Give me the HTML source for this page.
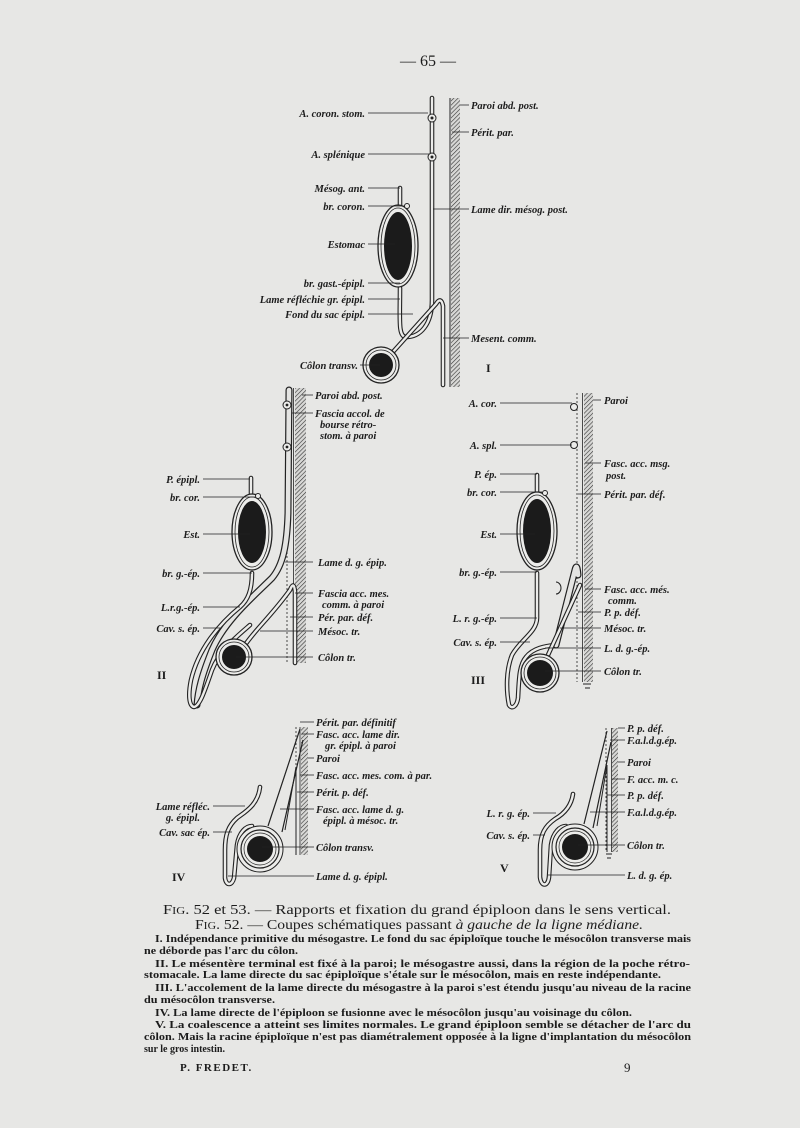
<!DOCTYPE html>
<html><head><meta charset="utf-8"><style>
html,body{margin:0;padding:0;background:#e7e7e5;}
svg{display:block}
.t{font-family:"Liberation Serif",serif;font-style:italic;font-weight:bold;font-size:10.5px;fill:#1c1c1c}
.r{text-anchor:end}
.b{font-family:"Liberation Serif",serif;font-weight:bold;font-size:11px;fill:#1c1c1c}
.ld{stroke:#222;stroke-width:0.8;fill:none}
.to{stroke:#222;stroke-width:4.6;fill:none;stroke-linecap:round;stroke-linejoin:round}
.ti{stroke:#ececea;stroke-width:2.4;fill:none;stroke-linecap:round;stroke-linejoin:round}
.th{stroke:#222;stroke-width:7;fill:none;stroke-linecap:round;stroke-linejoin:round}
.thi{stroke:#e4e4e2;stroke-width:4.6;fill:none;stroke-linecap:round;stroke-linejoin:round}
</style></head><body>
<svg width="800" height="1128" viewBox="0 0 800 1128" xmlns="http://www.w3.org/2000/svg">
<defs>
<pattern id="h" width="3" height="3" patternUnits="userSpaceOnUse" patternTransform="rotate(45)">
<rect width="3" height="3" fill="#d8d8d6"/><line x1="0" y1="0" x2="0" y2="3" stroke="#333" stroke-width="1.2"/>
</pattern>
</defs>
<rect width="800" height="1128" fill="#e7e7e5"/>
<text x="428" y="66" text-anchor="middle" font-family="Liberation Serif,serif" font-size="16" fill="#1c1c1c">— 65 —</text>

<!-- FIG I -->
<rect x="451" y="98" width="9" height="289" fill="url(#h)"/>
<line x1="450" y1="98" x2="450" y2="387" stroke="#222" stroke-width="1"/>
<path class="to" d="M432,98 L432,300 C432,325 420,337 406,337 C398,337 400,320 400,288"/>
<path class="ti" d="M432,98 L432,300 C432,325 420,337 406,337 C398,337 400,320 400,288"/>
<path class="to" d="M400,188 L400,205"/><path class="ti" d="M400,188 L400,205"/>
<circle cx="432" cy="118" r="4" fill="#ececea" stroke="#222"/><circle cx="432" cy="118" r="1.5" fill="#222"/>
<circle cx="432" cy="157" r="4" fill="#ececea" stroke="#222"/><circle cx="432" cy="157" r="1.5" fill="#222"/>
<path class="to" d="M392,353 L436,304 Q441,296 443,306 L443,385"/>
<path class="ti" d="M392,353 L436,304 Q441,296 443,306 L443,385"/>
<ellipse cx="398" cy="246" rx="20" ry="41" fill="#ececea" stroke="#222" stroke-width="1.3"/>
<ellipse cx="398" cy="246" rx="17" ry="38" fill="none" stroke="#222" stroke-width="0.8"/>
<ellipse cx="398" cy="246" rx="14" ry="34" fill="#1b1b1b"/>
<circle cx="407" cy="206" r="2.5" fill="#ececea" stroke="#222"/>
<circle cx="381" cy="365" r="18" fill="#ececea" stroke="#222" stroke-width="1.3"/>
<circle cx="381" cy="365" r="15" fill="none" stroke="#222" stroke-width="0.8"/>
<circle cx="381" cy="365" r="12" fill="#1b1b1b"/>
<g class="ld">
<path d="M368,113H428M368,154H429M368,188H400M368,206H405M368,244H395M368,283H400M368,299H400M368,314H413M360,365H380"/>
<path d="M460,105H469M452,132H469M433,209H469M443,338H469"/>
</g>
<g class="t r">
<text x="365" y="117">A. coron. stom.</text><text x="365" y="158">A. splénique</text>
<text x="365" y="192">Mésog. ant.</text><text x="365" y="210">br. coron.</text>
<text x="365" y="248">Estomac</text><text x="365" y="287">br. gast.-épipl.</text>
<text x="365" y="303">Lame réfléchie gr. épipl.</text><text x="365" y="318">Fond du sac épipl.</text>
<text x="358" y="369">Côlon transv.</text>
</g>
<g class="t">
<text x="471" y="109">Paroi abd. post.</text><text x="471" y="136">Périt. par.</text>
<text x="471" y="213">Lame dir. mésog. post.</text><text x="471" y="342">Mesent. comm.</text>
</g>
<text x="486" y="372" font-family="Liberation Serif,serif" font-weight="bold" font-size="12" fill="#1c1c1c">I</text>

<!-- FIG II -->
<rect x="295" y="388" width="11" height="275" fill="url(#h)"/>
<line x1="293.5" y1="388" x2="293.5" y2="663" stroke="#222" stroke-width="0.8"/>
<line x1="287" y1="388" x2="287" y2="663" stroke="#222" stroke-width="0.8" stroke-dasharray="2,2"/>
<path class="th" d="M289,390 L288,513 C287,545 283,565 272,578 C255,595 225,620 212,650 C202,675 198,690 197,705"/>
<path class="thi" d="M289,390 L288,513 C287,545 283,565 272,578 C255,595 225,620 212,650 C202,675 198,690 197,705"/>
<path class="to" d="M252,573 C252,590 248,600 240,607 C218,625 198,650 191,680 C188,695 189,706 194,707 C200,706 205,690 212,670 C220,650 235,638 250,625"/>
<path class="ti" d="M252,573 C252,590 248,600 240,607 C218,625 198,650 191,680 C188,695 189,706 194,707 C200,706 205,690 212,670 C220,650 235,638 250,625"/>
<path class="to" d="M245,645 C255,630 272,615 290,590 Q294,580 295,592 L295,663"/>
<path class="ti" d="M245,645 C255,630 272,615 290,590 Q294,580 295,592 L295,663"/>
<path class="to" d="M251,478 L251,494"/><path class="ti" d="M251,478 L251,494"/>
<circle cx="287" cy="405" r="4" fill="#ececea" stroke="#222"/><circle cx="287" cy="405" r="1.4" fill="#222"/>
<circle cx="287" cy="447" r="4" fill="#ececea" stroke="#222"/><circle cx="287" cy="447" r="1.4" fill="#222"/>
<ellipse cx="252" cy="532" rx="20" ry="38" fill="#ececea" stroke="#222" stroke-width="1.3"/>
<ellipse cx="252" cy="532" rx="17" ry="35" fill="none" stroke="#222" stroke-width="0.8"/>
<ellipse cx="252" cy="532" rx="14" ry="31" fill="#1b1b1b"/>
<circle cx="258" cy="496" r="2.5" fill="#ececea" stroke="#222"/>
<circle cx="234" cy="657" r="18" fill="#ececea" stroke="#222" stroke-width="1.3"/>
<circle cx="234" cy="657" r="15" fill="none" stroke="#222" stroke-width="0.8"/>
<circle cx="234" cy="657" r="12" fill="#1b1b1b"/>
<g class="ld">
<path d="M203,479H250M203,497H255M203,534H250M203,573H252M203,607H240M203,628H220"/>
<path d="M302,395H313M292,413H313M285,562H313M295,593H313M290,617H313M260,631H313M236,657H313"/>
</g>
<g class="t r">
<text x="200" y="483">P. épipl.</text><text x="200" y="501">br. cor.</text>
<text x="200" y="538">Est.</text><text x="200" y="577">br. g.-ép.</text>
<text x="200" y="611">L.r.g.-ép.</text><text x="200" y="632">Cav. s. ép.</text>
</g>
<g class="t">
<text x="315" y="399">Paroi abd. post.</text><text x="315" y="417">Fascia accol. de</text>
<text x="320" y="428">bourse rétro-</text><text x="320" y="439">stom. à paroi</text>
<text x="318" y="566">Lame d. g. épip.</text><text x="318" y="597">Fascia acc. mes.</text>
<text x="322" y="608">comm. à paroi</text><text x="318" y="621">Pér. par. déf.</text>
<text x="318" y="635">Mésoc. tr.</text><text x="318" y="661">Côlon tr.</text>
</g>
<text x="157" y="679" font-family="Liberation Serif,serif" font-weight="bold" font-size="12" fill="#1c1c1c">II</text>

<!-- FIG III -->
<rect x="584" y="393" width="9" height="289" fill="url(#h)"/>
<line x1="582.5" y1="393" x2="582.5" y2="682" stroke="#222" stroke-width="0.8"/>
<line x1="577" y1="393" x2="577" y2="682" stroke="#222" stroke-width="0.8" stroke-dasharray="2,2"/>
<path d="M583,684 L591,684 M585,688 L590,688" stroke="#222"/>
<path class="to" d="M537,573 L537,618 C537,632 520,640 512,655 C506,670 506,690 509,705 C512,710 517,706 518,698 C519,680 519,665 526,657 C533,648 545,646 556,645"/>
<path class="ti" d="M537,573 L537,618 C537,632 520,640 512,655 C506,670 506,690 509,705 C512,710 517,706 518,698 C519,680 519,665 526,657 C533,648 545,646 556,645"/>
<path class="th" d="M556,645 L575,570 Q577,562 578,575"/>
<path class="thi" d="M556,645 L575,570 Q577,562 578,575"/>
<path class="to" d="M548,655 L580,585"/><path class="ti" d="M548,655 L580,585"/>
<path class="to" d="M537,475 L537,492"/><path class="ti" d="M537,475 L537,492"/>
<circle cx="574" cy="407" r="3.5" fill="#ececea" stroke="#222"/>
<circle cx="574" cy="445" r="3.5" fill="#ececea" stroke="#222"/>
<path d="M556,582 A5,6 0 0 1 556,594" fill="none" stroke="#222"/>
<ellipse cx="537" cy="531" rx="20" ry="39" fill="#ececea" stroke="#222" stroke-width="1.3"/>
<ellipse cx="537" cy="531" rx="17" ry="36" fill="none" stroke="#222" stroke-width="0.8"/>
<ellipse cx="537" cy="531" rx="14" ry="32" fill="#1b1b1b"/>
<circle cx="545" cy="493" r="2.5" fill="#ececea" stroke="#222"/>
<circle cx="540" cy="673" r="19" fill="#ececea" stroke="#222" stroke-width="1.3"/>
<circle cx="540" cy="673" r="16" fill="none" stroke="#222" stroke-width="0.8"/>
<circle cx="540" cy="673" r="13" fill="#1b1b1b"/>
<g class="ld">
<path d="M500,403H572M500,445H572M500,474H537M500,492H542M500,534H535M500,572H537M500,618H537M500,642H530"/>
<path d="M593,400H601M585,463H601M578,494H601M585,589H601M578,612H601M560,628H601M545,648H601M545,671H601"/>
</g>
<g class="t r">
<text x="497" y="407">A. cor.</text><text x="497" y="449">A. spl.</text>
<text x="497" y="478">P. ép.</text><text x="497" y="496">br. cor.</text>
<text x="497" y="538">Est.</text><text x="497" y="576">br. g.-ép.</text>
<text x="497" y="622">L. r. g.-ép.</text><text x="497" y="646">Cav. s. ép.</text>
</g>
<g class="t">
<text x="604" y="404">Paroi</text><text x="604" y="467">Fasc. acc. msg.</text>
<text x="606" y="479">post.</text><text x="604" y="498">Périt. par. déf.</text>
<text x="604" y="593">Fasc. acc. més.</text><text x="608" y="604">comm.</text>
<text x="604" y="616">P. p. déf.</text><text x="604" y="632">Mésoc. tr.</text>
<text x="604" y="652">L. d. g.-ép.</text><text x="604" y="675">Côlon tr.</text>
</g>
<text x="471" y="684" font-family="Liberation Serif,serif" font-weight="bold" font-size="12" fill="#1c1c1c">III</text>

<!-- FIG IV -->
<rect x="301" y="727" width="7" height="128" fill="url(#h)"/>
<line x1="300" y1="727" x2="300" y2="855" stroke="#222" stroke-width="0.8"/>
<line x1="296" y1="727" x2="296" y2="855" stroke="#222" stroke-width="0.8" stroke-dasharray="2,2"/>
<path d="M300,729 L268,826 M303,740 L282,832" stroke="#222" stroke-width="1.2" fill="none"/>
<path d="M296,767 L285,830" stroke="#222" stroke-width="1" fill="none"/>
<path d="M296,767 L296,855" stroke="#222" stroke-width="1" fill="none"/>
<path class="to" d="M260,787 C258,805 245,812 237,818 C228,826 225,835 225,850 L225,878 C226,886 232,886 234,878 L237,845 C239,832 246,826 252,826"/>
<path class="ti" d="M260,787 C258,805 245,812 237,818 C228,826 225,835 225,850 L225,878 C226,886 232,886 234,878 L237,845 C239,832 246,826 252,826"/>
<circle cx="260" cy="849" r="23" fill="#ececea" stroke="#222" stroke-width="1"/>
<circle cx="260" cy="849" r="19" fill="none" stroke="#222" stroke-width="1.2"/>
<circle cx="260" cy="849" r="16" fill="none" stroke="#222" stroke-width="0.7"/>
<circle cx="260" cy="849" r="13" fill="#1b1b1b"/>
<g class="ld">
<path d="M213,806H245M213,832H232"/>
<path d="M300,722H314M302,734H314M308,758H314M300,775H314M297,792H314M280,809H314M262,847H314M228,876H314"/>
</g>
<g class="t r">
<text x="210" y="810">Lame réfléc.</text><text x="200" y="821">g. épipl.</text>
<text x="210" y="836">Cav. sac ép.</text>
</g>
<g class="t">
<text x="316" y="726">Périt. par. définitif</text><text x="316" y="738">Fasc. acc. lame dir.</text>
<text x="325" y="749">gr. épipl. à paroi</text><text x="316" y="762">Paroi</text>
<text x="316" y="779">Fasc. acc. mes. com. à par.</text><text x="316" y="796">Périt. p. déf.</text>
<text x="316" y="813">Fasc. acc. lame d. g.</text><text x="323" y="824">épipl. à mésoc. tr.</text>
<text x="316" y="851">Côlon transv.</text><text x="316" y="880">Lame d. g. épipl.</text>
</g>
<text x="172" y="881" font-family="Liberation Serif,serif" font-weight="bold" font-size="12" fill="#1c1c1c">IV</text>

<!-- FIG V -->
<rect x="612" y="728" width="6" height="124" fill="url(#h)"/>
<line x1="611.5" y1="728" x2="611.5" y2="852" stroke="#222" stroke-width="0.8"/>
<line x1="606" y1="728" x2="606" y2="852" stroke="#222" stroke-width="0.8" stroke-dasharray="2,2"/>
<path d="M606,854 L612,854 M607,858 L611,858" stroke="#222"/>
<path d="M607,731 L584,824 M611,742 L593,828" stroke="#222" stroke-width="1.2" fill="none"/>
<path d="M607,765 L597,826 M607,765 L607,852" stroke="#222" stroke-width="1" fill="none"/>
<path class="to" d="M573,794 C571,808 562,815 555,819 C545,826 540,834 540,850 L540,877 C541,887 548,887 549,877 L551,845 C553,832 560,826 566,826"/>
<path class="ti" d="M573,794 C571,808 562,815 555,819 C545,826 540,834 540,850 L540,877 C541,887 548,887 549,877 L551,845 C553,832 560,826 566,826"/>
<circle cx="575" cy="847" r="23" fill="#ececea" stroke="#222" stroke-width="1"/>
<circle cx="575" cy="847" r="19" fill="none" stroke="#222" stroke-width="1.2"/>
<circle cx="575" cy="847" r="16" fill="none" stroke="#222" stroke-width="0.7"/>
<circle cx="575" cy="847" r="13" fill="#1b1b1b"/>
<g class="ld">
<path d="M533,813H556M533,835H545"/>
<path d="M618,728H625M610,740H625M618,762H625M612,779H625M607,795H625M590,812H625M578,845H625M547,875H625"/>
</g>
<g class="t r">
<text x="530" y="817">L. r. g. ép.</text><text x="530" y="839">Cav. s. ép.</text>
</g>
<g class="t">
<text x="627" y="732">P. p. déf.</text><text x="627" y="744">F.a.l.d.g.ép.</text>
<text x="627" y="766">Paroi</text><text x="627" y="783">F. acc. m. c.</text>
<text x="627" y="799">P. p. déf.</text><text x="627" y="816">F.a.l.d.g.ép.</text>
<text x="627" y="849">Côlon tr.</text><text x="627" y="879">L. d. g. ép.</text>
</g>
<text x="500" y="872" font-family="Liberation Serif,serif" font-weight="bold" font-size="12" fill="#1c1c1c">V</text>

<!-- CAPTION -->
<g font-family="Liberation Serif,serif" font-size="14" fill="#1c1c1c">
<text x="163" y="914" textLength="508" lengthAdjust="spacingAndGlyphs">F<tspan font-size="10.5">IG</tspan>. 52 et 53. — Rapports et fixation du grand épiploon dans le sens vertical.</text>
<text x="195" y="929" textLength="448" lengthAdjust="spacingAndGlyphs">F<tspan font-size="10.5">IG</tspan>. 52. — Coupes schématiques passant <tspan font-style="italic">à gauche de la ligne médiane.</tspan></text>
</g>
<g class="b">
<text x="155" y="942" textLength="536" lengthAdjust="spacingAndGlyphs">I. Indépendance primitive du mésogastre. Le fond du sac épiploïque touche le mésocôlon transverse mais</text>
<text x="144" y="954" textLength="154" lengthAdjust="spacingAndGlyphs">ne déborde pas l'arc du côlon.</text>
<text x="155" y="967" textLength="535" lengthAdjust="spacingAndGlyphs">II. Le mésentère terminal est fixé à la paroi; le mésogastre aussi, dans la région de la poche rétro-</text>
<text x="144" y="978" textLength="517" lengthAdjust="spacingAndGlyphs">stomacale. La lame directe du sac épiploïque s'étale sur le mésocôlon, mais en reste indépendante.</text>
<text x="155" y="991" textLength="536" lengthAdjust="spacingAndGlyphs">III. L'accolement de la lame directe du mésogastre à la paroi s'est étendu jusqu'au niveau de la racine</text>
<text x="144" y="1003" textLength="131" lengthAdjust="spacingAndGlyphs">du mésocôlon transverse.</text>
<text x="155" y="1016" textLength="477" lengthAdjust="spacingAndGlyphs">IV. La lame directe de l'épiploon se fusionne avec le mésocôlon jusqu'au voisinage du côlon.</text>
<text x="155" y="1028" textLength="536" lengthAdjust="spacingAndGlyphs">V. La coalescence a atteint ses limites normales. Le grand épiploon semble se détacher de l'arc du</text>
<text x="144" y="1040" textLength="547" lengthAdjust="spacingAndGlyphs">côlon. Mais la racine épiploïque n'est pas diamétralement opposée à la ligne d'implantation du mésocôlon</text>
<text x="144" y="1052" textLength="81" lengthAdjust="spacingAndGlyphs">sur le gros intestin.</text>
<text x="180" y="1071" letter-spacing="1.5">P. FREDET.</text>
<text x="624" y="1072" font-size="13" font-weight="normal">9</text>
</g>
</svg>
</body></html>
